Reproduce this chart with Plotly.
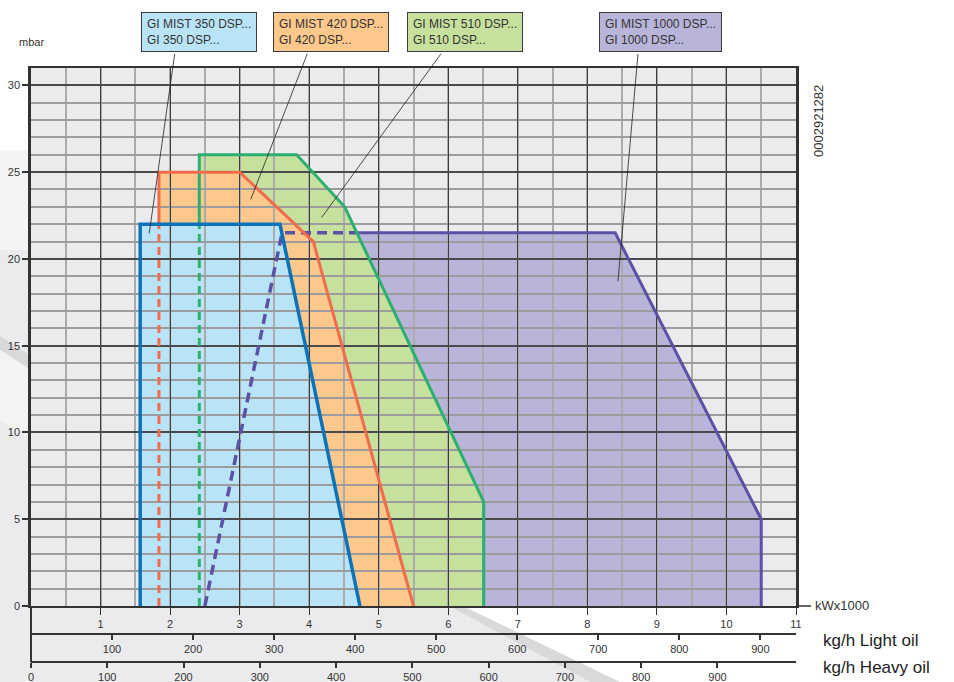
import numpy as np
import plotly.graph_objects as go

# ---------------- data (kW x1000 vs mbar) ----------------
blue_x = [1.57, 1.57, 3.58, 4.73]
blue_y = [0, 22, 22, 0]
orange_x = [1.84, 1.84, 3.0, 4.06, 5.5]
orange_y = [0, 25, 25, 21, 0]
green_x = [2.42, 2.42, 3.82, 4.51, 6.51, 6.51]
green_y = [0, 26, 26, 23, 6, 0]
purple_x = [2.5, 3.61, 8.4, 10.5, 10.5]
purple_y = [0, 21.5, 21.5, 5, 0]

labels = ["GI MIST 350 DSP...<br>GI 350 DSP...",
          "GI MIST 420 DSP...<br>GI 420 DSP...",
          "GI MIST 510 DSP...<br>GI 510 DSP...",
          "GI MIST 1000 DSP...<br>GI 1000 DSP..."]
# callout tips (data coords) and tails (data coords)
tip_x = [1.70, 3.16, 4.18, 8.44]
tip_y = [21.47, 23.43, 22.39, 18.71]
tail_x = [2.07, 3.98, 5.91, 8.73]
tail_y = [31.9, 31.9, 31.9, 31.9]

kw_ticks = list(range(0, 12))
mbar_ticks = list(range(0, 31, 5))
light_ticks = list(range(100, 1000, 100))
heavy_ticks = list(range(0, 1000, 100))
light_range_max = 944
heavy_range_max = 1003

fill_cols = ["#b9e4f8", "#fdc88c", "#c6e09d", "#b8b4da"]
line_cols = ["#0a72b9", "#f26b4b", "#2bb06f", "#5b51a5"]

# ---------------- layout geometry ----------------
W, H = 954, 682
L, R, T, B = 31, 142, 68, 0
PW, PH = W - L - R, H - T - B


def px2x(px):
    return (px - L) / PW


def py2y(py):
    return (H - B - py) / PH


fig = go.Figure()

# fills as shapes drawn below the gridlines
shapes = []
def poly(xs, ys):
    return "M " + " L ".join(f"{x},{y}" for x, y in zip(xs, ys)) + " Z"

for xs, ys, c in [(purple_x, purple_y, fill_cols[3]), (green_x, green_y, fill_cols[2]),
                  (orange_x, orange_y, fill_cols[1]), (blue_x, blue_y, fill_cols[0])]:
    shapes.append(dict(type="path", path=poly(xs, ys), xref="x", yref="y",
                       fillcolor=c, line=dict(width=0), layer="below"))

# page decoration (paper coords)
def ppoly(pts):
    return "M " + " L ".join(f"{px2x(a)},{py2y(b)}" for a, b in pts) + " Z"

shapes += [
    dict(type="path", path=ppoly([(0, 150), (31, 150), (31, 250), (0, 250)]), xref="paper", yref="paper",
         fillcolor="#f4f4f4", line=dict(width=0), layer="below"),
    dict(type="path", path=ppoly([(0, 250), (31, 250), (31, 606), (449, 606), (590, 682), (0, 682)]),
         xref="paper", yref="paper", fillcolor="#ebebed", line=dict(width=0), layer="below"),
    dict(type="path", path=ppoly([(0, 336), (31, 356), (31, 370), (0, 350)]), xref="paper", yref="paper",
         fillcolor="#d9d9db", line=dict(width=0), layer="below"),
    dict(type="path", path=ppoly([(0, 350), (31, 370), (31, 440), (0, 420)]), xref="paper", yref="paper",
         fillcolor="#f3f3f4", line=dict(width=0), layer="below"),
    dict(type="path", path=ppoly([(449, 606), (463, 606), (620, 682), (590, 682)]), xref="paper", yref="paper",
         fillcolor="#d9d9db", line=dict(width=0), layer="below"),
    # axis extensions
    dict(type="line", xref="paper", yref="paper", x0=px2x(796), x1=px2x(811), y0=py2y(606), y1=py2y(606),
         line=dict(color="#333333", width=1.5), layer="above"),
    dict(type="line", xref="paper", yref="paper", x0=0, x1=0, y0=py2y(606), y1=py2y(662),
         line=dict(color="#333333", width=2), layer="above"),
]

# outline traces
split_y = max(blue_y)
purple_split_x = float(np.interp(purple_y[1], [green_y[4], green_y[3]], [green_x[4], green_x[3]]))

def line_trace(xs, ys, color, dash="solid", width=3):
    return go.Scatter(x=xs, y=ys, mode="lines", line=dict(color=color, width=width, dash=dash),
                      hoverinfo="skip", showlegend=False)

# purple
fig.add_trace(line_trace([purple_x[0], purple_x[1], purple_split_x], [purple_y[0], purple_y[1], purple_y[2]],
                         line_cols[3], dash="10px,6px", width=3.5))
fig.add_trace(line_trace([purple_split_x] + purple_x[2:], [purple_y[2]] + purple_y[2:], line_cols[3]))
# green
fig.add_trace(line_trace([green_x[0], green_x[0]], [0, split_y], line_cols[2], dash="8px,5px"))
fig.add_trace(line_trace([green_x[0]] + green_x[1:], [split_y] + green_y[1:], line_cols[2]))
# orange
fig.add_trace(line_trace([orange_x[0], orange_x[0]], [0, split_y], line_cols[1], dash="8px,5px"))
fig.add_trace(line_trace([orange_x[0]] + orange_x[1:], [split_y] + orange_y[1:], line_cols[1]))
# blue
fig.add_trace(line_trace(blue_x, blue_y, line_cols[0], width=3.5))

# dummy traces for secondary axes
fig.add_trace(go.Scatter(x=[0], y=[None], xaxis="x2", yaxis="y", showlegend=False, hoverinfo="skip"))
fig.add_trace(go.Scatter(x=[0], y=[None], xaxis="x3", yaxis="y", showlegend=False, hoverinfo="skip"))

font_main = "Liberation Sans, Arial, sans-serif"
tickfont = dict(family=font_main, size=11, color="#333333")

annotations = [
    dict(text="mbar", x=0, y=py2y(42), xref="paper", yref="paper", showarrow=False,
         xanchor="center", yanchor="middle",
         font=dict(family=font_main, size=11, color="#333333")),
    dict(text="0002921282", x=px2x(818), y=py2y(121), xref="paper", yref="paper", showarrow=False,
         xanchor="center", yanchor="middle",
         textangle=-90, font=dict(family=font_main, size=13, color="#333333")),
    dict(text="kWx1000", x=px2x(813), y=py2y(605), xref="paper", yref="paper", showarrow=False,
         xanchor="left", yanchor="middle", font=dict(family=font_main, size=13, color="#333333")),
    dict(text="kg/h Light oil", x=px2x(821), y=py2y(640), xref="paper", yref="paper", showarrow=False,
         xanchor="left", yanchor="middle", font=dict(family=font_main, size=17, color="#222222")),
    dict(text="kg/h Heavy oil", x=px2x(821), y=py2y(667), xref="paper", yref="paper", showarrow=False,
         xanchor="left", yanchor="middle", font=dict(family=font_main, size=17, color="#222222")),
]
box_cx = [198.5, 331, 465, 660]
for i, lab in enumerate(labels):
    annotations.append(dict(text=lab, x=px2x(box_cx[i]), y=py2y(31.5), xref="paper", yref="paper",
                            xanchor="center", yanchor="middle",
                            showarrow=False, align="left", bgcolor=fill_cols[i], bordercolor="#3a3a3a",
                            borderwidth=1, borderpad=5, height=28,
                            font=dict(family=font_main, size=12, color="#333333")))
    annotations.append(dict(text="", x=tip_x[i], y=tip_y[i], xref="x", yref="y",
                            ax=tail_x[i], ay=tail_y[i], axref="x", ayref="y",
                            showarrow=True, arrowhead=0, arrowwidth=0.8, arrowcolor="#222222", standoff=0))

fig.update_layout(
    width=W, height=H, margin=dict(l=L, r=R, t=T, b=B, autoexpand=False),
    paper_bgcolor="white", plot_bgcolor="#ebebed",
    showlegend=False, hovermode=False,
    shapes=shapes, annotations=annotations,
    xaxis=dict(domain=[0, 765 / PW], range=[0, 11], tickmode="array", tickvals=kw_ticks,
               ticktext=[""] + [str(v) for v in kw_ticks[1:]],
               ticks="outside", ticklen=7, tickwidth=1, tickcolor="#333333",
               showgrid=True, gridcolor="#3c3c3c", gridwidth=1,
               minor=dict(dtick=0.5, tick0=0, showgrid=True, gridcolor="#ababab", gridwidth=1.5, ticks=""),
               showline=True, linecolor="#333333", linewidth=2, mirror=True, automargin=False,
               zeroline=False, tickfont=tickfont, fixedrange=True),
    yaxis=dict(domain=[py2y(606), 1], range=[0, 31], tickmode="array", tickvals=mbar_ticks,
               ticks="outside", ticklen=6, tickwidth=1.5, tickcolor="#333333",
               showgrid=True, gridcolor="#4a4a4a", gridwidth=1.5,
               minor=dict(dtick=1, tick0=0, showgrid=True, gridcolor="#9c9c9c", gridwidth=1.5, ticks=""),
               showline=True, linecolor="#333333", linewidth=2.5, mirror=True, automargin=False,
               zeroline=False, tickfont=tickfont, fixedrange=True),
    xaxis2=dict(domain=[0, 1], range=[0, light_range_max], anchor="free", position=py2y(634), overlaying="x",
                tickmode="array", tickvals=light_ticks, ticks="outside", ticklen=5, tickwidth=1.5,
                tickcolor="#333333", showgrid=False, zeroline=False, showline=True, automargin=False,
                linecolor="#333333", linewidth=2, tickfont=tickfont, fixedrange=True),
    xaxis3=dict(domain=[0, 1], range=[0, heavy_range_max], anchor="free", position=py2y(662), overlaying="x",
                tickmode="array", tickvals=heavy_ticks, ticks="outside", ticklen=5, tickwidth=1.5,
                tickcolor="#333333", showgrid=False, zeroline=False, showline=True, automargin=False,
                linecolor="#333333", linewidth=2, tickfont=tickfont, fixedrange=True),
)

fig.write_html("out.html", post_script="document.body.style.margin='0px';",
               config={"displayModeBar": False})
